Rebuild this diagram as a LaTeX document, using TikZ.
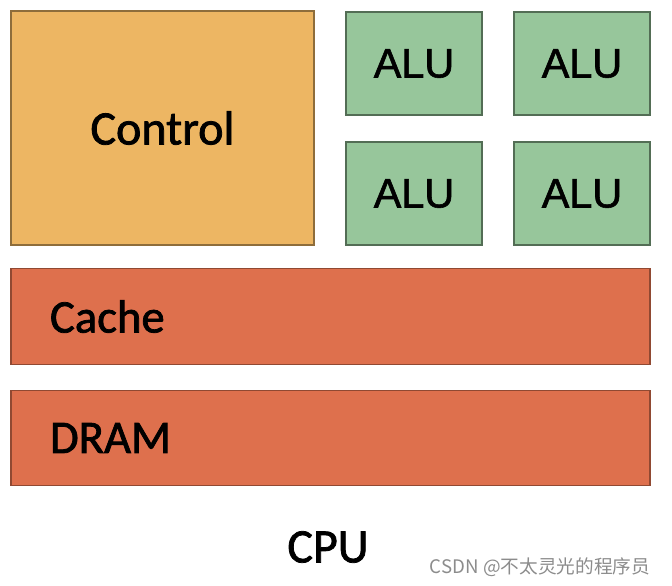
\documentclass[tikz,border=0pt]{standalone}
\usepackage{fontspec}
\setmainfont{Carlito}
\newfontfamily\boxfont[FakeBold=1.6]{Carlito}
\newfontfamily\alufont[FakeBold=1.4]{Liberation Sans}
\newfontfamily\cjk{Noto Sans CJK SC}
\definecolor{ctrlfill}{HTML}{EDB663}
\definecolor{alufill}{HTML}{97C69B}
\definecolor{memfill}{HTML}{DE704D}
\begin{document}
\begin{tikzpicture}[x=0.75pt,y=-0.75pt,inner sep=0pt,outer sep=0pt,
ctrlbox/.style={draw=ctrlfill!60!black,fill=ctrlfill,line width=0.8pt,minimum width=227.25pt,minimum height=175.5pt,font=\boxfont\fontsize{36}{40}\selectfont},
alubox/.style={draw=alufill!55!black,fill=alufill,line width=0.8pt,minimum width=102pt,minimum height=77.25pt,font=\alufont\fontsize{31}{36}\selectfont},
membox/.style={draw=memfill!65!black,fill=memfill,line width=0.8pt,minimum height=71.5pt,text width=420.75pt,inner xsep=29.25pt,align=left,font=\boxfont\fontsize{35}{40}\selectfont}]
\useasboundingbox (0,0) rectangle (672,586);
\draw (162.5,128) node[ctrlbox] (ctrl) {Control};
\draw (414,63.5) node[alubox] (alu1) {ALU};
\draw (582,63.5) node[alubox] (alu2) {ALU};
\draw (414,193.5) node[alubox] (alu3) {ALU};
\draw (582,193.5) node[alubox] (alu4) {ALU};
\draw (330.5,316.5) node[membox] (cache) {Cache};
\draw (330.5,438) node[membox] (dram) {DRAM};
\draw (328,547) node[font=\boxfont\fontsize{36}{40}\selectfont] (cpu) {CPU};
% watermark
\draw (540,567) node[text=black!45,font=\cjk\fontsize{14}{16}\selectfont] (mark) {CSDN @不太灵光的程序员};
\end{tikzpicture}
\end{document}
